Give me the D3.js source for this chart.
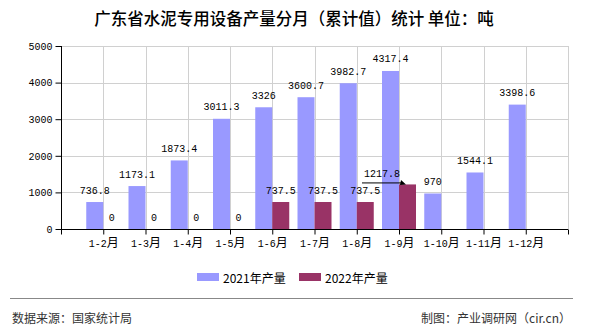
<!DOCTYPE html>
<html><head><meta charset="utf-8">
<script src="https://cdn.jsdelivr.net/npm/d3@7/dist/d3.min.js"></script>
<style>body{margin:0;background:#fff}svg{display:block}</style>
</head><body>
<svg id="c" width="590" height="330"></svg>
<script>
const categories = ["1-2月","1-3月","1-4月","1-5月","1-6月","1-7月","1-8月","1-9月","1-10月","1-11月","1-12月"];
const series = ["2021年产量","2022年产量"];
const values2021 = [736.8,1173.1,1873.4,3011.3,3326,3600.7,3982.7,4317.4,970,1544.1,3398.6];
const values2022 = [0,0,0,0,737.5,737.5,737.5,1217.8,null,null,null];
const yTicks = [0,1000,2000,3000,4000,5000];
const colors = ["#9999FF","#993366"];
const title = "广东省水泥专用设备产量分月（累计值）统计 单位：吨";
const source = "数据来源：国家统计局";
const credit = "制图：产业调研网（cir.cn）";

const svg = d3.select("#c");
const mono = "'Liberation Mono','DejaVu Sans Mono',monospace";
const cjk = "'Noto Sans CJK SC','Noto Sans',sans-serif";

const L = 61, R = 568, T = 46, B = 229;
const pts = ["_s", ...categories, "_e"];
const x = d3.scalePoint().domain(pts).range([L, R]);
const y = d3.scaleLinear().domain([0, 5000]).range([B, T]);
const xb = d3.scaleBand().domain(series).range([-17, 17]).padding(0);

// title
svg.append("text").attr("x", 294).attr("y", 18).attr("text-anchor", "middle")
  .attr("dominant-baseline", "central").attr("font-family", cjk).attr("font-size", 16.5)
  .attr("font-weight", 500).attr("fill", "#000").text(title);

// grid
const g = svg.append("g");
g.selectAll(".hg").data(yTicks).join("line")
  .attr("x1", L).attr("x2", R).attr("y1", d => Math.round(y(d)) + 0.5).attr("y2", d => Math.round(y(d)) + 0.5)
  .attr("stroke", "#d0d0d0");
g.selectAll(".vg").data(pts).join("line")
  .attr("x1", d => Math.round(x(d)) + 0.5).attr("x2", d => Math.round(x(d)) + 0.5)
  .attr("y1", T).attr("y2", B).attr("stroke", "#d0d0d0");

// bars
const data = [values2021, values2022];
data.forEach((vals, si) => {
  svg.append("g").selectAll("rect").data(vals.map((v, i) => ({v, c: categories[i]})).filter(d => d.v !== null && d.v > 0))
    .join("rect")
    .attr("x", d => x(d.c) + xb(series[si]))
    .attr("width", xb.bandwidth())
    .attr("y", d => y(d.v))
    .attr("height", d => y(0) - y(d.v))
    .attr("fill", colors[si]);
});

// value labels
data.forEach((vals, si) => {
  svg.append("g").selectAll("text").data(vals.map((v, i) => ({v, c: categories[i], i})).filter(d => d.v !== null))
    .join("text")
    .attr("x", d => (si === 1 && d.i === 7) ? 382 : x(d.c) + xb(series[si]) + xb.bandwidth() / 2)
    .attr("y", d => (si === 1 && d.i === 7) ? y(d.v) - 10 : y(d.v) - 11)
    .attr("text-anchor", "middle").attr("dominant-baseline", "central")
    .attr("font-family", mono).attr("font-size", 10).attr("fill", "#000")
    .text(d => String(d.v));
});
// callout arrow for 1-9月 2022
{
  const yy = y(values2022[7]) - 2;
  svg.append("line").attr("x1", 362).attr("x2", 401).attr("y1", yy + 0.5).attr("y2", yy + 0.5)
    .attr("stroke", "#000").attr("stroke-width", 1);
  svg.append("path").attr("d", `M401,${yy - 2.5} L406,${yy + 2} L400,${yy + 2.5} Z`).attr("fill", "#000");
}

// axes
const xAxis = d3.axisBottom(x).tickSize(5).tickFormat(d => (d === "_s" || d === "_e") ? "" : d);
const xa = svg.append("g").attr("transform", `translate(0,${B + 0.5})`).call(xAxis);
xa.select(".domain").attr("stroke", "#000").attr("d", `M${L},0H${R}`);
xa.selectAll(".tick line").attr("stroke", "#000");
xa.selectAll(".tick text").each(function(d) {
  const t = d3.select(this);
  const s = t.text();
  t.text(null).attr("y", 12).attr("dy", "0.5em").attr("fill", "#000");
  if (!s) return;
  const m = s.match(/^(.*?)(月)$/);
  t.append("tspan").attr("font-family", mono).attr("font-size", 10).text(m[1]);
  t.append("tspan").attr("font-family", cjk).attr("font-size", 12).text(m[2]);
});

const yAxis = d3.axisLeft(y).tickValues(yTicks).tickSize(6).tickPadding(3).tickFormat(d3.format("d"));
const ya = svg.append("g").attr("transform", `translate(${L + 0.5},0)`).call(yAxis);
ya.select(".domain").attr("stroke", "#000").attr("d", `M0,${T}V${B}`);
ya.selectAll(".tick line").attr("stroke", "#000");
ya.selectAll(".tick text").attr("font-family", mono).attr("font-size", 10).attr("fill", "#000");

// legend
const lg = svg.append("g");
const legX = [197, 299];
series.forEach((s, i) => {
  lg.append("rect").attr("x", legX[i]).attr("y", 273).attr("width", 22).attr("height", 8).attr("fill", colors[i]);
  lg.append("text").attr("x", legX[i] + 26).attr("y", 277).attr("dominant-baseline", "central")
    .attr("font-family", cjk).attr("font-size", 12).attr("fill", "#000").text(s);
});

// footer
svg.append("line").attr("x1", 10).attr("x2", 573).attr("y1", 298.5).attr("y2", 298.5).attr("stroke", "#888");
svg.append("text").attr("x", 12).attr("y", 317).attr("dominant-baseline", "central")
  .attr("font-family", cjk).attr("font-size", 12).attr("fill", "#333").text(source);
svg.append("text").attr("x", 571).attr("y", 317).attr("text-anchor", "end").attr("dominant-baseline", "central")
  .attr("font-family", cjk).attr("font-size", 12).attr("fill", "#333").text(credit);
</script>
</body></html>
